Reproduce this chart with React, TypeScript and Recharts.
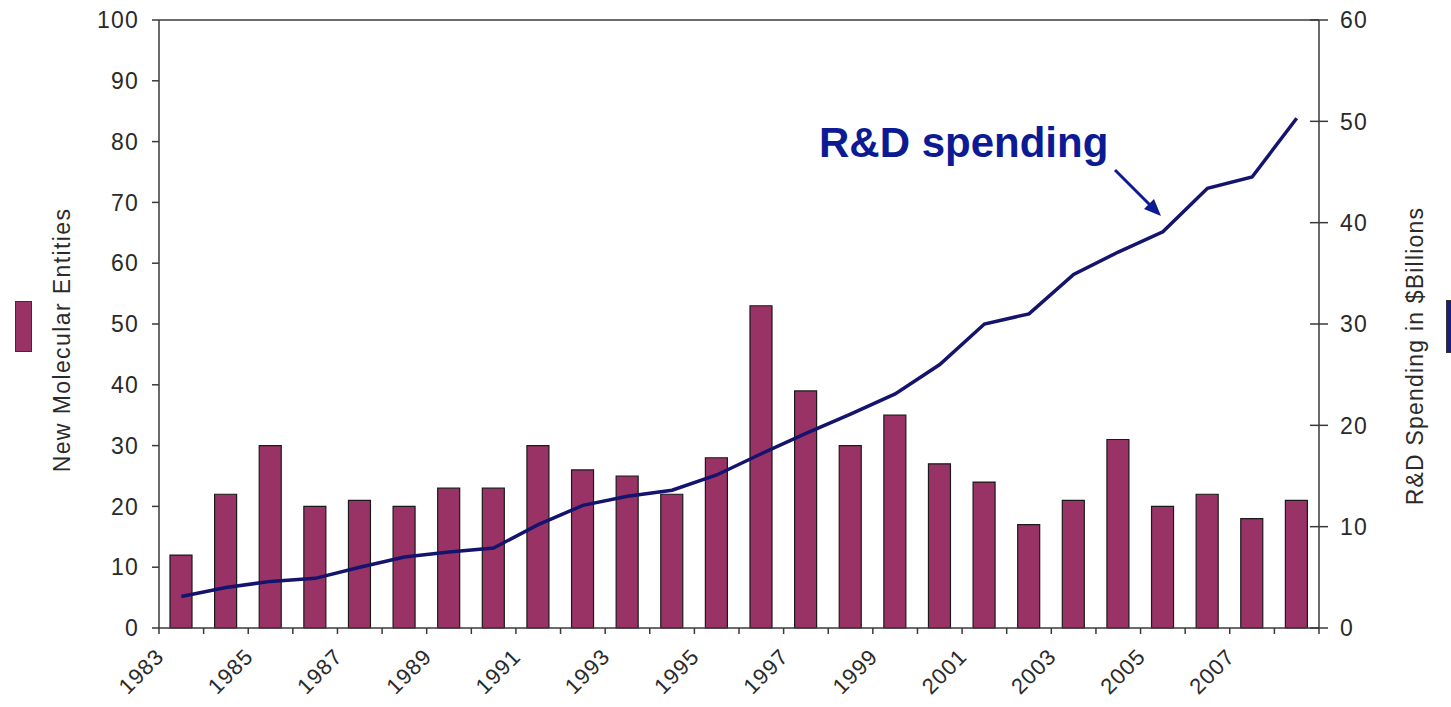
import React from 'react';
import { ComposedChart, Bar, Line, XAxis, YAxis, ReferenceLine } from 'recharts';

const years = ['1983','1984','1985','1986','1987','1988','1989','1990','1991','1992','1993','1994','1995','1996','1997','1998','1999','2000','2001','2002','2003','2004','2005','2006','2007','2008'];
const nmeValues = [12,22,30,20,21,20,23,23,30,26,25,22,28,53,39,30,35,27,24,17,21,31,20,22,18,21];
const rdValues = [3.1,4.0,4.6,4.9,6.0,7.0,7.5,7.9,10.2,12.1,13.0,13.6,15.1,17.2,19.2,21.1,23.1,26.0,30.0,31.0,34.9,37.1,39.1,43.4,44.5,50.3];
const leftTicks = [0,10,20,30,40,50,60,70,80,90,100];
const rightTicks = [0,10,20,30,40,50,60];

const data = years.map((y, i) => ({ year: y, nme: nmeValues[i], rd: rdValues[i] }));

const FONT = '"Liberation Sans", Arial, sans-serif';
const AXIS = '#3a3a3a';
const TXT = '#2a2a2a';

const XTick = (props: any) => {
  const { x, y, payload, index } = props;
  const half = payload && payload.offset ? payload.offset : 22.3;
  const i = payload && typeof payload.index === 'number' ? payload.index : index;
  const ax = x - 16;
  const ay = y + 30;
  return (
    <g>
      <line x1={x - half} x2={x - half} y1={y} y2={y + 6} stroke={AXIS} strokeWidth={1.5} />
      {i === years.length - 1 && (
        <line x1={x + half} x2={x + half} y1={y} y2={y + 6} stroke={AXIS} strokeWidth={1.5} />
      )}
      {i % 2 === 0 && (
        <text
          x={ax}
          y={ay}
          textAnchor="end"
          transform={`rotate(-45 ${ax} ${ay})`}
          fontFamily={FONT}
          fontSize={22}
          letterSpacing={1}
          fill={TXT}
        >
          {payload.value}
        </text>
      )}
    </g>
  );
};

const RightTick = (props: any) => {
  const { x, y, payload } = props;
  return (
    <g>
      <line x1={x - 30} x2={x - 12} y1={y} y2={y} stroke={AXIS} strokeWidth={1.5} />
      <text x={x} y={y} dy="0.36em" textAnchor="start" fontFamily={FONT} fontSize={23} letterSpacing={1.2} fill={TXT}>
        {payload.value}
      </text>
    </g>
  );
};

export default function App() {
  return (
    <div style={{ position: 'absolute', left: 0, top: 0, width: 1451, height: 707, background: '#fff', overflow: 'hidden' }}>
      <ComposedChart
        width={1451}
        height={707}
        data={data}
        margin={{ top: 20, right: 0, bottom: 0, left: 0 }}
      >
        <XAxis
          dataKey="year"
          interval={0}
          height={79}
          tickSize={0}
          tickMargin={0}
          tickLine={false}
          axisLine={{ stroke: AXIS, strokeWidth: 1.5 }}
          tick={<XTick />}
        />
        <YAxis
          yAxisId="left"
          orientation="left"
          width={159}
          domain={[0, 100]}
          ticks={leftTicks}
          interval={0}
          tickSize={7}
          tickMargin={13}
          axisLine={{ stroke: AXIS, strokeWidth: 1.5 }}
          tickLine={{ stroke: AXIS, strokeWidth: 1.5 }}
          tick={{ fontFamily: FONT, fontSize: 23, fill: TXT, letterSpacing: 1.2 }}
        />
        <YAxis
          yAxisId="right"
          orientation="right"
          width={132}
          domain={[0, 60]}
          ticks={rightTicks}
          interval={0}
          tickSize={9}
          tickMargin={12}
          axisLine={{ stroke: AXIS, strokeWidth: 1.5 }}
          tickLine={false}
          tick={<RightTick />}
        />
        <ReferenceLine yAxisId="left" y={100} stroke={AXIS} strokeWidth={1.5} />
        <Bar
          yAxisId="left"
          dataKey="nme"
          barSize={22}
          fill="#993366"
          stroke="#1a1a1a"
          strokeWidth={1.2}
          isAnimationActive={false}
        />
        <Line
          yAxisId="right"
          type="linear"
          dataKey="rd"
          stroke="#14146e"
          strokeWidth={3.5}
          dot={false}
          activeDot={false}
          isAnimationActive={false}
        />
      </ComposedChart>

      <div
        style={{
          position: 'absolute', left: 62, top: 340, transform: 'translate(-50%, -50%) rotate(-90deg)',
          whiteSpace: 'nowrap', fontFamily: FONT, fontSize: 23, letterSpacing: 1.4, color: TXT, lineHeight: 1,
        }}
      >
        New Molecular Entities
      </div>
      <div
        style={{
          position: 'absolute', left: 1415, top: 356, transform: 'translate(-50%, -50%) rotate(-90deg)',
          whiteSpace: 'nowrap', fontFamily: FONT, fontSize: 23, letterSpacing: 1.2, color: TXT, lineHeight: 1,
        }}
      >
        R&amp;D Spending in $Billions
      </div>
      <div style={{ position: 'absolute', left: 15, top: 301, width: 15, height: 49, background: '#993366', border: '1px solid #333' }} />
      <div style={{ position: 'absolute', left: 1446, top: 300, width: 15, height: 51, background: '#1c1c7c', border: '1px solid #333' }} />
      <div
        style={{
          position: 'absolute', left: 819, top: 122, fontFamily: FONT, fontWeight: 'bold', fontSize: 42,
          color: '#0c1a94', whiteSpace: 'nowrap', lineHeight: 1,
        }}
      >
        R&amp;D spending
      </div>
      <svg style={{ position: 'absolute', left: 0, top: 0 }} width={1451} height={707} pointerEvents="none">
        <line x1={1115} y1={170} x2={1151} y2={206} stroke="#0c1a94" strokeWidth={3} />
        <polygon points="1161,216 1144,209 1154,199" fill="#0c1a94" />
      </svg>
    </div>
  );
}
